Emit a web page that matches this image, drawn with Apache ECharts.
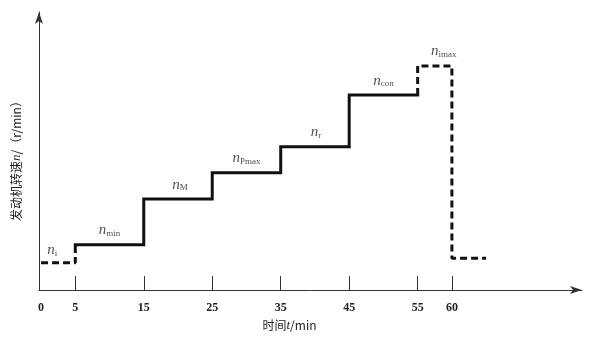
<!DOCTYPE html>
<html><head><meta charset="utf-8">
<script src="https://cdn.jsdelivr.net/npm/echarts@6/dist/echarts.min.js"></script>
<style>html,body{margin:0;padding:0;background:#fff}#c{width:600px;height:339px}</style>
</head><body><div id="c"></div>
<script>
// Step boundaries (time, min) and speed level for each stage (relative units)
var stepTimes = [0, 5, 15, 25, 35, 45, 55, 60, 65];
var levels = [9.8, 16.3, 32.7, 42.2, 51.5, 70.1, 80.6, 11.4];
var labelSubs = ['i', 'min', 'M', 'Pmax', 'r', 'con', 'imax', ''];
var xTickLabels = [0, 5, 15, 25, 35, 45, 55, 60];
var xTicks = [5, 15, 25, 35, 45, 55, 60];

// solid stages: 1..5, dashed: 0 and 6..7
var solid = [], dashA = [], dashB = [];
dashA.push([stepTimes[0], levels[0]], [stepTimes[1], levels[0]], [stepTimes[1], levels[1]]);
for (var i = 1; i <= 5; i++) {
  solid.push([stepTimes[i], levels[i]], [stepTimes[i + 1], levels[i]]);
}
dashB.push([stepTimes[6], levels[5]], [stepTimes[6], levels[6]], [stepTimes[7], levels[6]],
           [stepTimes[7], levels[7]], [stepTimes[8], levels[7]]);

var labelPts = [];
var labelOffsets = [[-6, 2], [0, 0], [2, 0], [0, 0], [1, 0], [0, 0], [9, 0]];
for (var j = 0; j < 7; j++) {
  labelPts.push({
    value: [(stepTimes[j] + stepTimes[j + 1]) / 2, levels[j]],
    sub: labelSubs[j],
    label: { offset: labelOffsets[j] }
  });
}

var lineCol = '#111';
var chart = echarts.init(document.getElementById('c'));
chart.setOption({
  animation: false,
  grid: { left: 39, right: 18, top: 12, bottom: 49 },
  xAxis: {
    type: 'value', min: -0.3, max: 79,
    name: '时间{i|t}/min', nameLocation: 'middle', nameGap: 28,
    nameTextStyle: {
      fontFamily: 'Noto Sans CJK SC', fontSize: 12, color: '#222', padding: [0, 42, 0, 0],
      rich: { i: { fontFamily: 'Liberation Serif', fontStyle: 'italic', fontSize: 13, color: '#222' } }
    },
    axisLine: { onZero: false, lineStyle: { color: '#333', width: 1 }, symbol: ['none', 'arrow'], symbolSize: [6, 12] },
    axisTick: { show: true, inside: true, length: 14, customValues: xTicks, lineStyle: { color: '#333' } },
    axisLabel: { customValues: xTickLabels, fontFamily: 'Liberation Serif', fontWeight: 'bold', fontSize: 12, color: '#222', margin: 12 },
    splitLine: { show: false }
  },
  yAxis: {
    type: 'value', min: 0, max: 100,
    name: '发动机转速{i|n}/（r/min）', nameLocation: 'middle', nameRotate: 90, nameGap: 16,
    nameTextStyle: {
      fontFamily: 'Noto Sans CJK SC', fontSize: 12, color: '#222', padding: [0, 14, 0, 0],
      rich: { i: { fontFamily: 'Liberation Serif', fontStyle: 'italic', fontSize: 13, color: '#222' } }
    },
    axisLine: { show: true, onZero: false, lineStyle: { color: '#333', width: 1 }, symbol: ['none', 'arrow'], symbolSize: [6, 12] },
    axisTick: { show: false }, axisLabel: { show: false }, splitLine: { show: false }
  },
  series: [
    { type: 'line', data: solid, showSymbol: false, lineStyle: { color: lineCol, width: 3, cap: 'square', join: 'miter' } },
    { type: 'line', data: dashA, showSymbol: false, lineStyle: { color: lineCol, width: 3, type: [7, 4] } },
    { type: 'line', data: dashB, showSymbol: false, lineStyle: { color: lineCol, width: 3, type: [7, 4] } },
    {
      type: 'scatter', data: labelPts, symbolSize: 0,
      label: {
        show: true, position: 'top', distance: 7,
        formatter: function (p) { return '{n|n}{s|' + p.data.sub + '}'; },
        rich: {
          n: { fontFamily: 'Liberation Serif', fontStyle: 'italic', fontSize: 15, color: '#222', verticalAlign: 'bottom', lineHeight: 16 },
          s: { fontFamily: 'Liberation Serif', fontSize: 9, color: '#222', verticalAlign: 'bottom', lineHeight: 16, padding: [5, 0, 0, 0] }
        }
      }
    }
  ]
});
</script></body></html>
